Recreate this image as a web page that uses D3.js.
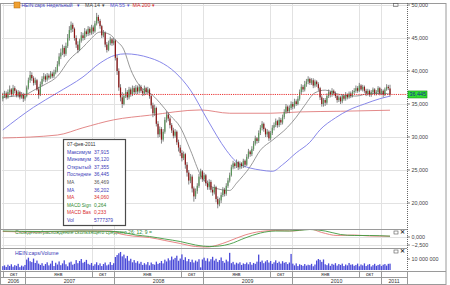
<!doctype html>
<html>
<head>
<meta charset="utf-8">
<style>
  body { margin: 0; background: #fff; }
  svg { display: block; font-family: "Liberation Sans", Arial, sans-serif; }
</style>
<script src="https://d3js.org/d3.v7.min.js"></script>
</head>
<body>
<svg id="chart" width="450" height="285"></svg>
<script>

// weekly candles, first week starts 2 Oct 2006 (prices in EUR)
var firstWeek = "2006-10-02";

var open = [
  35.8, 36.2, 36.6, 36.0, 36.8, 37.2, 36.5, 37.4, 37.0, 36.3, 36.8, 36.0, 36.4, 35.8,
  36.2, 37.5, 38.6, 39.4, 38.9, 38.2, 38.6, 37.2,
  36.4, 38.0, 38.8, 39.2, 38.7, 39.3, 39.0, 39.6, 39.2, 39.8,
  40.1, 41.0, 42.2, 42.8, 43.5, 42.6, 43.8, 45.0, 46.2, 47.0,
  46.4, 45.0, 44.0, 43.2, 44.6, 45.4, 45.0, 46.0, 45.6, 46.4, 45.8, 46.6,
  46.0, 47.2, 48.2, 47.6, 46.8, 45.4, 45.8, 44.0, 43.2, 44.2, 44.8, 44.2,
  44.6, 42.0, 40.0, 37.5, 36.0, 35.0,
  36.2, 36.8, 36.0, 37.2, 36.5, 37.4, 36.8,
  37.5, 36.9, 37.6, 37.0, 36.6, 37.4, 36.8, 37.2,
  36.2, 34.8, 33.6, 34.4, 32.0, 30.4, 31.2, 29.6,
  30.8, 32.6, 33.4, 32.8, 31.8, 31.0, 30.2, 30.8, 29.2,
  28.4, 27.6, 26.8, 27.4, 25.8, 24.6, 23.4, 24.0,
  22.2, 21.0, 21.8, 22.6, 24.0, 24.8, 23.6,
  24.2, 23.0, 22.4, 23.2, 22.0, 21.6, 22.4, 20.6, 19.8, 20.4,
  21.2, 22.0, 21.4, 22.6, 23.4, 24.2, 25.4, 26.0,
  25.6, 26.2, 25.4, 26.0, 25.6, 26.4, 25.8, 27.0, 27.8, 27.4,
  28.2, 29.0, 29.8, 29.4, 30.6, 31.4, 32.0,
  31.2, 30.4, 30.8, 29.8, 30.6, 31.4, 31.8, 32.4, 31.8, 32.6, 32.2,
  33.0, 33.8, 34.6, 33.9, 34.4, 35.0, 34.6, 35.4, 35.0,
  35.8, 36.8, 37.6, 37.2, 38.0, 38.4, 38.8, 38.2, 38.6, 37.8, 38.4, 38.0,
  37.4, 36.0, 35.0, 35.6, 35.2, 36.2, 36.8, 36.4, 37.0, 36.6,
  36.2, 35.6, 36.0, 35.4, 36.2, 35.8, 36.4, 36.0, 36.6, 36.2, 36.8,
  37.0, 37.4, 37.0, 37.8, 37.2, 37.6, 37.0, 36.6, 37.0, 36.4, 36.8, 37.2,
  36.6, 36.8, 37.4, 36.6, 37.0, 36.4, 37.2, 37.6, 37.355
];
var high = [
  36.7, 37.0, 36.9, 37.2, 37.8, 37.4, 37.9, 37.7, 37.2, 37.1, 37.0, 36.8, 36.7, 36.6,
  37.8, 39.0, 40.0, 39.8, 39.2, 39.0, 38.8, 37.6,
  38.4, 39.2, 39.7, 39.5, 39.7, 39.6, 40.0, 39.9, 40.2, 40.6,
  41.5, 42.7, 43.4, 44.0, 43.8, 44.3, 45.6, 46.8, 47.5, 47.3,
  46.6, 45.4, 44.5, 44.9, 45.9, 45.8, 46.5, 46.3, 46.8, 46.7, 47.0, 46.9,
  47.6, 48.8, 48.5, 47.9, 47.0, 46.2, 46.0, 44.4, 44.6, 45.2, 45.0, 45.0,
  44.8, 42.4, 40.4, 38.0, 36.8, 36.6,
  37.4, 37.1, 37.6, 37.5, 37.8, 37.7, 37.9,
  37.8, 38.0, 37.9, 37.3, 37.8, 37.6, 37.6, 37.4,
  36.4, 35.2, 34.9, 34.6, 32.4, 31.6, 31.5, 31.2,
  33.0, 33.9, 33.7, 33.1, 32.1, 31.4, 31.2, 31.0, 29.6,
  28.8, 28.0, 27.8, 27.6, 26.2, 25.0, 24.4, 24.3,
  22.5, 22.2, 23.0, 24.4, 25.2, 25.0, 24.6,
  24.4, 23.4, 23.6, 23.5, 22.4, 22.8, 22.6, 21.0, 20.8, 21.6,
  22.4, 22.3, 23.0, 23.8, 24.6, 25.8, 26.4, 26.2,
  26.6, 26.4, 26.3, 26.2, 26.7, 26.6, 27.4, 28.2, 28.0, 28.6,
  29.4, 30.2, 30.0, 31.0, 31.8, 32.4, 32.2,
  31.4, 31.2, 31.0, 30.9, 31.8, 32.2, 32.8, 32.6, 33.0, 32.9, 33.4,
  34.2, 35.0, 34.8, 34.8, 35.4, 35.3, 35.8, 35.7, 36.2,
  37.2, 38.0, 37.9, 38.5, 38.8, 39.2, 39.0, 38.9, 38.9, 38.7, 38.6, 38.3,
  37.6, 36.3, 35.9, 35.9, 36.6, 37.2, 37.0, 37.4, 37.2, 36.9,
  36.4, 36.3, 36.2, 36.5, 36.4, 36.8, 36.6, 36.9, 36.9, 37.1, 37.4,
  37.8, 37.7, 38.2, 38.0, 37.9, 37.8, 37.3, 37.3, 37.2, 37.1, 37.5, 37.4,
  37.1, 37.7, 37.6, 37.3, 37.2, 37.5, 38.0, 37.9, 37.915
];
var low = [
  35.4, 35.9, 35.7, 35.8, 36.4, 36.1, 36.2, 36.6, 36.0, 36.0, 35.7, 35.8, 35.3, 35.5,
  36.0, 37.2, 38.2, 38.5, 37.8, 37.9, 37.0, 35.8,
  36.2, 37.7, 38.4, 38.3, 38.4, 38.7, 38.8, 38.9, 38.9, 39.5,
  39.8, 40.7, 41.8, 42.4, 42.1, 42.3, 43.5, 44.6, 45.8, 45.9,
  44.6, 43.5, 42.7, 43.0, 44.3, 44.6, 44.7, 45.2, 45.3, 45.4, 45.5, 45.6,
  45.8, 46.9, 47.2, 46.4, 45.0, 45.1, 43.6, 42.8, 43.0, 43.9, 43.8, 43.9,
  41.6, 39.4, 37.0, 35.4, 34.4, 34.8,
  35.9, 35.6, 35.7, 36.1, 36.2, 36.4, 36.5,
  36.5, 36.6, 36.7, 36.2, 36.3, 36.4, 36.5, 35.8,
  34.3, 33.0, 33.2, 31.6, 29.9, 30.0, 29.0, 29.3,
  30.5, 32.2, 32.4, 31.3, 30.6, 29.8, 29.9, 28.8, 27.8,
  27.1, 26.3, 26.5, 25.2, 24.0, 22.8, 23.0, 21.6,
  20.2, 20.6, 21.4, 22.3, 23.6, 23.2, 23.3,
  22.6, 22.0, 22.0, 21.6, 21.1, 21.3, 20.1, 19.2, 19.5, 20.0,
  20.9, 21.0, 21.1, 22.3, 23.1, 24.0, 25.1, 25.2,
  25.3, 25.0, 25.1, 25.2, 25.3, 25.4, 25.6, 26.7, 27.0, 27.1,
  27.9, 28.7, 29.0, 29.1, 30.3, 31.0, 30.8,
  30.0, 30.0, 29.4, 29.5, 30.3, 31.0, 31.5, 31.4, 31.5, 31.8, 31.9,
  32.7, 33.5, 33.6, 33.6, 34.1, 34.2, 34.3, 34.7, 34.8,
  35.5, 36.5, 36.8, 36.9, 37.6, 38.0, 37.9, 37.9, 37.4, 37.5, 37.6, 37.0,
  35.6, 34.6, 34.6, 34.7, 34.9, 35.9, 36.0, 36.1, 36.3, 35.9,
  35.2, 35.3, 35.0, 35.1, 35.5, 35.5, 35.7, 35.8, 35.9, 36.0, 36.5,
  36.7, 36.7, 36.8, 37.0, 36.9, 36.7, 36.2, 36.3, 36.1, 36.1, 36.5, 36.3,
  36.3, 36.5, 36.3, 36.4, 36.0, 36.2, 37.0, 37.1, 36.12
];
var close = [
  36.2, 36.6, 36.0, 36.8, 37.2, 36.5, 37.4, 37.0, 36.3, 36.8, 36.0, 36.4, 35.8, 36.2,
  37.5, 38.6, 39.4, 38.9, 38.2, 38.6, 37.2, 36.4,
  38.0, 38.8, 39.2, 38.7, 39.3, 39.0, 39.6, 39.2, 39.8, 40.1,
  41.0, 42.2, 42.8, 43.5, 42.6, 43.8, 45.0, 46.2, 47.0, 46.4,
  45.0, 44.0, 43.2, 44.6, 45.4, 45.0, 46.0, 45.6, 46.4, 45.8, 46.6, 46.0,
  47.2, 48.2, 47.6, 46.8, 45.4, 45.8, 44.0, 43.2, 44.2, 44.8, 44.2, 44.6,
  42.0, 40.0, 37.5, 36.0, 35.0, 36.2,
  36.8, 36.0, 37.2, 36.5, 37.4, 36.8, 37.5,
  36.9, 37.6, 37.0, 36.6, 37.4, 36.8, 37.2, 36.2,
  34.8, 33.6, 34.4, 32.0, 30.4, 31.2, 29.6, 30.8,
  32.6, 33.4, 32.8, 31.8, 31.0, 30.2, 30.8, 29.2, 28.4,
  27.6, 26.8, 27.4, 25.8, 24.6, 23.4, 24.0, 22.2,
  21.0, 21.8, 22.6, 24.0, 24.8, 23.6, 24.2,
  23.0, 22.4, 23.2, 22.0, 21.6, 22.4, 20.6, 19.8, 20.4, 21.2,
  22.0, 21.4, 22.6, 23.4, 24.2, 25.4, 26.0, 25.6,
  26.2, 25.4, 26.0, 25.6, 26.4, 25.8, 27.0, 27.8, 27.4, 28.2,
  29.0, 29.8, 29.4, 30.6, 31.4, 32.0, 31.2,
  30.4, 30.8, 29.8, 30.6, 31.4, 31.8, 32.4, 31.8, 32.6, 32.2, 33.0,
  33.8, 34.6, 33.9, 34.4, 35.0, 34.6, 35.4, 35.0, 35.8,
  36.8, 37.6, 37.2, 38.0, 38.4, 38.8, 38.2, 38.6, 37.8, 38.4, 38.0, 37.4,
  36.0, 35.0, 35.6, 35.2, 36.2, 36.8, 36.4, 37.0, 36.6, 36.2,
  35.6, 36.0, 35.4, 36.2, 35.8, 36.4, 36.0, 36.6, 36.2, 36.8, 37.0,
  37.4, 37.0, 37.8, 37.2, 37.6, 37.0, 36.6, 37.0, 36.4, 36.8, 37.2, 36.6,
  36.8, 37.4, 36.6, 37.0, 36.4, 37.2, 37.6, 37.4, 36.445
];
// weekly volume, millions of shares
var volume = [
  3.5, 4.2, 2.8, 4.8, 3.6, 5.2, 3.0, 4.4, 3.8, 5.6, 2.6, 4.0, 3.2, 4.6,
  9.5, 11.2, 8.0, 7.2, 10.4, 6.4, 8.6, 5.8,
  4.6, 6.2, 3.8, 5.4, 7.0, 4.2, 5.8, 8.4, 3.6, 6.6, 5.0, 7.8, 4.4, 6.0, 8.8, 5.2, 3.4, 6.8, 7.6, 4.8, 5.6, 9.0, 6.2,
  8.2, 10.0, 6.6, 7.4, 9.2, 5.6,
  4.8, 6.4, 3.8, 5.2, 7.0, 4.4, 6.0, 3.6, 5.4, 6.8, 4.2, 5.0, 7.2, 4.6, 6.2,
  11.8, 13.6, 15.2, 16.4, 12.4, 14.0, 10.6, 12.8,
  8.4, 10.2, 7.0, 9.0, 6.6, 8.0, 5.8, 7.4,
  4.6, 6.2, 5.0, 7.2, 4.2, 6.8, 5.4, 4.8, 7.6, 5.6, 6.4, 8.2, 6.0, 9.4, 7.8,
  10.6, 8.8, 12.2, 9.6, 11.0, 13.0, 8.4, 10.4, 14.2, 9.2, 11.6,
  8.0, 10.0, 7.2, 9.4, 6.8, 8.6, 7.6, 9.8, 2.4,
  9.6, 11.2, 8.4, 10.6, 7.8, 9.8, 12.0, 8.6, 10.2, 7.4, 9.0, 11.4, 8.2, 6.6, 9.4, 7.8, 15.6,
  6.2, 7.4, 5.0, 6.6, 5.8, 7.0, 4.6, 6.0, 5.4, 6.8, 5.2, 7.2, 4.8, 6.4, 5.6, 7.6, 14.0,
  7.4, 8.6, 6.2, 7.8, 9.0, 6.8, 8.2, 5.6, 7.0, 8.8, 6.4, 7.6, 5.8, 8.0, 6.6, 7.2, 5.4, 6.8, 14.6,
  5.8, 4.2, 6.0, 3.6, 5.2, 4.6, 3.8, 5.4, 4.0, 4.8, 4.4, 5.6, 3.4, 5.0,
  8.6, 10.0, 9.2, 7.4, 9.6,
  5.2, 4.4, 6.0, 3.8, 5.6, 4.8, 6.2, 4.0, 5.4, 4.6, 5.8, 3.6, 5.0, 4.2, 6.4, 4.8, 5.2, 3.8,
  4.6, 5.8, 3.4, 5.0, 4.2, 6.0, 3.6, 4.8, 5.4, 3.2, 4.4, 5.6, 3.8, 4.6, 5.2, 3.6, 4.8, 5.4, 4.0, 5.6, 5.777379
];

// moving averages read at [week index, value]
var ma14 = [[0, 36.0], [7, 36.2], [13, 36.4], [19, 37.2], [25, 38.0], [32, 39.2], [39, 41.7], [47, 43.6],
  [51, 44.7], [57, 45.9], [63, 45.5], [66, 44.7], [71, 43.2], [75, 40.2], [79, 38.2], [83, 37.1], [86, 36.7],
  [92, 35.2], [98, 33.3], [104, 31.5], [110, 28.0], [116, 24.2], [123, 22.4], [133, 21.9], [137, 23.0],
  [145, 25.5], [151, 28.0], [158, 29.5], [167, 31.5], [172, 33.0], [177, 34.8], [183, 36.7], [189, 37.1],
  [198, 36.4], [207, 36.2], [215, 36.6], [224, 36.6], [227, 36.469]];
var ma55 = [[0, 31.06], [18, 34.5], [32, 36.7], [47, 39.1], [57, 41.2], [66, 42.4], [72, 42.6], [86, 42.0],
  [92, 41.4], [101, 39.8], [110, 37.1], [120, 32.6], [131, 28.0], [137, 26.2], [145, 25.3], [151, 25.0],
  [158, 24.8], [164, 25.8], [172, 27.6], [180, 29.2], [186, 31.1], [195, 32.9], [203, 34.1], [212, 35.0],
  [221, 35.8], [227, 36.202]];
var ma200 = [[0, 29.85], [32, 30.3], [47, 31.4], [65, 32.6], [86, 33.3], [116, 34.1], [133, 33.6],
  [157, 33.6], [174, 33.8], [198, 33.9], [227, 34.06]];

// MACD 26/12/9 read at [week index, value]
var macdSignal = [[0, 1.875], [22, 1.72], [45, 1.875], [66, 1.72], [72, 1.25], [78, 0.625], [86, 0.156],
  [95, -0.625], [104, -1.41], [113, -2.5], [121, -2.97], [127, -2.81], [133, -2.19], [142, -0.31],
  [151, 1.25], [160, 1.875], [168, 1.875], [180, 2.34], [189, 1.875], [198, 0.78], [206, 0.47],
  [215, 0.47], [227, 0.264]];
var macdBase = [[0, 1.72], [22, 1.56], [45, 1.875], [63, 1.875], [69, 0.94], [76, 0.31], [86, -0.16],
  [95, -1.09], [104, -2.03], [113, -2.97], [120, -3.125], [126, -2.5], [132, -1.41], [142, 0.625],
  [151, 1.72], [160, 2.03], [170, 1.875], [180, 2.5], [187, 1.41], [196, 0.47], [206, 0.625],
  [215, 0.31], [227, 0.233]];

var priceTicks = [20, 25, 30, 35, 40, 45, 50];
var macdTicks = [0, -2.5];
var volTicks = [10000000];
var monthLabels = {0: "янв", 9: "окт"};
var tipDate = "07-фев-2011";

var svg = d3.select("#chart");
var left = 2, right = 407, outerRight = 446;
var mainTop = 3, mainBottom = 229, macdBottom = 248, volBottom = 271, monthBottom = 277, yearBottom = 284;

var ru = d3.formatLocale({decimal: ",", thousands: " ", grouping: [3], currency: ["", ""]});
var fPrice = ru.format(".3f"), fVol = ru.format(",d");

var start = d3.timeParse("%Y-%m-%d")(firstWeek);
var n = Math.min(open.length, high.length, low.length, close.length);
var dates = d3.range(n).map(function(i) { return d3.timeDay.offset(start, 7 * i); });

var x = d3.scaleTime().domain([new Date(2007, 0, 1), new Date(2011, 0, 1)]).range([25, 381]);
var yP = d3.scaleLinear().domain([20, 50]).range([203, 5]);
var yM = d3.scaleLinear().domain([-2.5, 0]).range([245, 237]);
var yV = d3.scaleLinear().domain([0, 10000000]).range([270, 259]);

function xi(i) { return x(d3.timeDay.offset(start, 7 * i)); }

// clip paths
var defs = svg.append("defs");
defs.append("clipPath").attr("id", "clipMain").append("rect")
  .attr("x", left).attr("y", mainTop).attr("width", right - left).attr("height", mainBottom - mainTop);
defs.append("clipPath").attr("id", "clipMacd").append("rect")
  .attr("x", left).attr("y", mainBottom).attr("width", right - left).attr("height", macdBottom - mainBottom);

// gridlines
var bounds = d3.timeMonth.range(new Date(2006, 9, 1), new Date(2011, 1, 1))
  .filter(function(d) { return d.getMonth() === 0 || d.getMonth() === 9; });
var grid = svg.append("g").attr("stroke", "#e2e2e2").attr("stroke-width", 1);
grid.selectAll(".v").data(bounds).enter().append("line")
  .attr("x1", function(d) { return Math.round(x(d)) + 0.5; })
  .attr("x2", function(d) { return Math.round(x(d)) + 0.5; })
  .attr("y1", mainTop).attr("y2", volBottom);
grid.selectAll(".h").data(priceTicks).enter().append("line")
  .attr("x1", left).attr("x2", right)
  .attr("y1", function(d) { return Math.round(yP(d)) + 0.5; })
  .attr("y2", function(d) { return Math.round(yP(d)) + 0.5; });
grid.selectAll(".m").data(macdTicks).enter().append("line")
  .attr("x1", left).attr("x2", right)
  .attr("y1", function(d) { return Math.round(yM(d)) + 0.5; })
  .attr("y2", function(d) { return Math.round(yM(d)) + 0.5; });

// moving averages
var maLine = d3.line()
  .x(function(d) { return xi(d[0]); })
  .y(function(d) { return yP(d[1]); })
  .curve(d3.curveMonotoneX);
var mainG = svg.append("g").attr("clip-path", "url(#clipMain)");
[[ma200, "#e07c7c"], [ma55, "#7b7be6"], [ma14, "#8c8c8c"]].forEach(function(m) {
  mainG.append("path").datum(m[0]).attr("d", maLine)
    .attr("fill", "none").attr("stroke", m[1]).attr("stroke-width", 0.9);
});

// candles
var candles = mainG.selectAll(".c").data(d3.range(n)).enter().append("g");
candles.append("line")
  .attr("x1", function(i) { return x(dates[i]); })
  .attr("x2", function(i) { return x(dates[i]); })
  .attr("y1", function(i) { return yP(high[i]); })
  .attr("y2", function(i) { return yP(low[i]); })
  .attr("stroke", "#666").attr("stroke-width", 0.8);
candles.append("rect")
  .attr("x", function(i) { return x(dates[i]) - 0.6; })
  .attr("width", 1.2)
  .attr("y", function(i) { return yP(Math.max(open[i], close[i])); })
  .attr("height", function(i) { return Math.max(0.6, Math.abs(yP(open[i]) - yP(close[i]))); })
  .attr("fill", function(i) { return close[i] >= open[i] ? "#5a955a" : "#8e1515"; });

// last price line
var last = close[n - 1];
mainG.append("line")
  .attr("x1", left).attr("x2", right)
  .attr("y1", yP(last)).attr("y2", yP(last))
  .attr("stroke", "#e82020").attr("stroke-width", 0.9).attr("stroke-dasharray", "1.2,1");

// MACD
var macdG = svg.append("g").attr("clip-path", "url(#clipMacd)");
var mLine = d3.line()
  .x(function(d) { return xi(d[0]); })
  .y(function(d) { return yM(d[1]); })
  .curve(d3.curveMonotoneX);
macdG.append("text").attr("x", 15).attr("y", 233.5)
  .attr("font-size", 5.2).attr("fill", "#2f8a2f")
  .attr("textLength", 137).attr("lengthAdjust", "spacingAndGlyphs")
  .text("Схождение/расхождение скользящего среднего 26; 12; 9 =");
macdG.append("path").datum(macdBase).attr("d", mLine)
  .attr("fill", "none").attr("stroke", "#e57878").attr("stroke-width", 0.9);
macdG.append("path").datum(macdSignal).attr("d", mLine)
  .attr("fill", "none").attr("stroke", "#3f9a3f").attr("stroke-width", 0.9);

// volume
var volG = svg.append("g");
volG.selectAll("rect").data(d3.range(Math.min(n, volume.length))).enter().append("rect")
  .attr("x", function(i) { return x(dates[i]) - 0.65; })
  .attr("width", 1.3)
  .attr("y", function(i) { return yV(volume[i] * 1e6); })
  .attr("height", function(i) { return yV(0) - yV(volume[i] * 1e6); })
  .attr("fill", "#4a4ad8");
volG.append("text").attr("x", 15).attr("y", 254.5)
  .attr("font-size", 5.2).attr("fill", "#3a3ab8").text("HEIN:caps/Volume");

// panel borders
var border = svg.append("g").attr("stroke", "#9a9a9a").attr("stroke-width", 1).attr("fill", "none");
border.append("rect").attr("x", 0.5).attr("y", mainTop + 0.5)
  .attr("width", outerRight - 0.5).attr("height", yearBottom - mainTop);
[mainBottom, macdBottom].forEach(function(yy) {
  border.append("line").attr("x1", 0).attr("x2", right).attr("y1", yy + 0.5).attr("y2", yy + 0.5);
});
border.append("line").attr("x1", 0).attr("x2", outerRight).attr("y1", volBottom + 0.5).attr("y2", volBottom + 0.5);
border.append("line").attr("x1", 0).attr("x2", right).attr("y1", monthBottom + 0.5).attr("y2", monthBottom + 0.5);
border.append("line").attr("x1", right + 0.5).attr("x2", right + 0.5).attr("y1", volBottom).attr("y2", yearBottom);

// time axis rows
var axisG = svg.append("g").attr("font-size", 5.2).attr("fill", "#333").attr("text-anchor", "middle");
bounds.forEach(function(d, k) {
  var bx = Math.round(x(d)) + 0.5;
  border.append("line").attr("x1", bx).attr("x2", bx).attr("y1", volBottom).attr("y2", monthBottom);
  var next = bounds[k + 1];
  if (next) {
    axisG.append("text").attr("x", (x(d) + x(next)) / 2).attr("y", monthBottom - 1.5)
      .text(monthLabels[d.getMonth()]);
  }
});
d3.range(2006, 2012).forEach(function(yr) {
  var a = Math.max(left, x(new Date(yr, 0, 1)));
  var b = Math.min(right, x(new Date(yr + 1, 0, 1)));
  if (yr > 2006) {
    border.append("line").attr("x1", Math.round(a) + 0.5).attr("x2", Math.round(a) + 0.5)
      .attr("y1", monthBottom).attr("y2", yearBottom);
  }
  axisG.append("text").attr("x", (a + b) / 2).attr("y", yearBottom - 1.5).text(yr);
});

// right axis
var rAxis = svg.append("g");
rAxis.append("line").attr("x1", right + 0.5).attr("x2", right + 0.5).attr("y1", mainTop).attr("y2", volBottom)
  .attr("stroke", "#666").attr("stroke-dasharray", "1,1");
function rightLabels(ticks, scale, fmt) {
  ticks.forEach(function(t) {
    rAxis.append("line").attr("x1", right).attr("x2", right + 3)
      .attr("y1", scale(t)).attr("y2", scale(t)).attr("stroke", "#666").attr("stroke-width", 0.8);
    rAxis.append("text").attr("x", right + 4.5).attr("y", scale(t) + 1.8)
      .attr("font-size", 5.4).attr("fill", "#444").text(fmt(t));
  });
}
rightLabels(priceTicks, yP, fPrice);
rightLabels(macdTicks, yM, fPrice);
rightLabels(volTicks, yV, fVol);

// last price tag
rAxis.append("rect").attr("x", right + 1).attr("y", yP(last) - 3.5).attr("width", 19).attr("height", 7)
  .attr("fill", "#2ee02e").attr("stroke", "#1a8a1a").attr("stroke-width", 0.6);
rAxis.append("text").attr("x", right + 2.5).attr("y", yP(last) + 1.9)
  .attr("font-size", 5.4).attr("fill", "#1a1a99").text(fPrice(last));

// legend
var leg = svg.append("g").attr("font-size", 5.2);
leg.append("rect").attr("x", 14).attr("y", 2).attr("width", 6).attr("height", 6)
  .attr("fill", "#f0a030").attr("stroke", "#b06a10").attr("stroke-width", 0.5);
[["HEIN:caps Недельный", 21.5, "#3a3ab8", 51], ["▾", 77, "#3a3ab8"], ["MA 14", 85, "#444", 15], ["▾", 102, "#444"],
 ["MA 55", 110, "#5a5ad8", 15], ["▾", 127, "#5a5ad8"], ["MA 200", 132.5, "#d83030", 18], ["▾", 152, "#d83030"]]
  .forEach(function(t) {
    var tx = leg.append("text").attr("x", t[1]).attr("y", 7).attr("fill", t[2]).text(t[0]);
    if (t[3]) tx.attr("textLength", t[3]).attr("lengthAdjust", "spacingAndGlyphs");
  });

// panel icons
function icons(y) {
  var g = svg.append("g");
  g.append("rect").attr("x", 394).attr("y", y).attr("width", 4).attr("height", 3)
    .attr("fill", "none").attr("stroke", "#555").attr("stroke-width", 0.6);
  g.append("text").attr("x", 400).attr("y", y + 3.4).attr("font-size", 5.5)
    .attr("font-weight", "bold").attr("fill", "#333").text("✕");
}
svg.append("rect").attr("x", 393.5).attr("y", 3.5).attr("width", 4.5).attr("height", 3)
  .attr("fill", "none").attr("stroke", "#555").attr("stroke-width", 0.6);
icons(mainBottom + 2);
icons(macdBottom + 2);

// info box
var tip = svg.append("g").attr("font-size", 4.9);
tip.append("rect").attr("x", 63.5).attr("y", 139.5).attr("width", 62).attr("height", 86)
  .attr("fill", "#fff").attr("stroke", "#4a4a4a").attr("stroke-width", 1.2);
var rows = [
  ["Максимум", fPrice(high[n - 1]), "#3a3ab8"],
  ["Минимум", fPrice(low[n - 1]), "#3a3ab8"],
  ["Открытый", fPrice(open[n - 1]), "#3a3ab8"],
  ["Последние", fPrice(close[n - 1]), "#3a3ab8"],
  ["MA", fPrice(ma14[ma14.length - 1][1]), "#555"],
  ["MA", fPrice(ma55[ma55.length - 1][1]), "#3a3ab8"],
  ["MA", fPrice(ma200[ma200.length - 1][1]), "#d83030"],
  ["MACD Sign", fPrice(macdSignal[macdSignal.length - 1][1]), "#2f8a2f"],
  ["MACD Bas", fPrice(macdBase[macdBase.length - 1][1]), "#d83030"],
  ["Vol", String(Math.round(volume[volume.length - 1] * 1e6)), "#3a3ab8"]
];
tip.append("text").attr("x", 67).attr("y", 146).attr("fill", "#333").text(tipDate);
rows.forEach(function(r, k) {
  var yy = 153.6 + k * 7.6;
  var lab = tip.append("text").attr("x", 67).attr("y", yy).attr("fill", r[2]).text(r[0]);
  if (r[0].length > 6) lab.attr("textLength", 24).attr("lengthAdjust", "spacingAndGlyphs");
  tip.append("text").attr("x", 94).attr("y", yy).attr("fill", r[2]).text(r[1]);
});

</script>
</body>
</html>
